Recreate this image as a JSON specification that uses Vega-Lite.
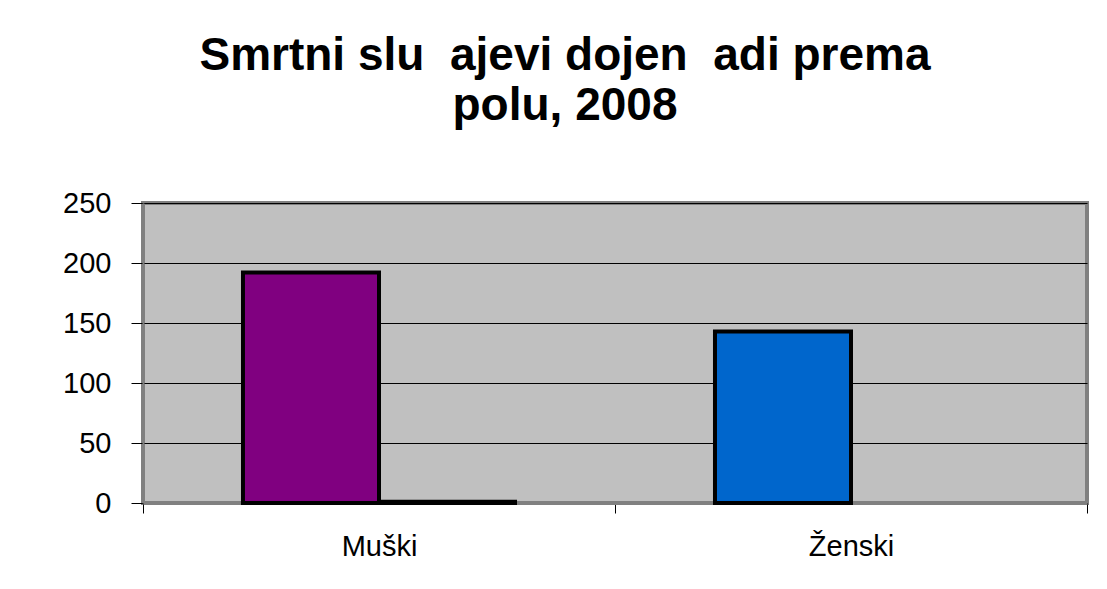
{
  "$schema": "https://vega.github.io/schema/vega-lite/v6.json",
  "width": 944,
  "height": 300,
  "autosize": {"type": "none"},
  "padding": {"left": 143, "top": 203, "right": 20, "bottom": 86},
  "background": "white",
  "title": {
    "text": ["Smrtni slu\u00a0\u00a0ajevi dojen\u00a0\u00a0adi prema", "polu, 2008"],
    "font": "Liberation Sans",
    "fontSize": 46,
    "fontWeight": "bold",
    "color": "black",
    "anchor": "middle",
    "dx": -50,
    "offset": 59,
    "lineHeight": 50
  },
  "data": {
    "values": [
      {"pol": "Muški", "serija": "1", "broj": 192},
      {"pol": "Muški", "serija": "2", "broj": 1},
      {"pol": "Ženski", "serija": "1", "broj": 143}
    ]
  },
  "mark": {"type": "bar", "stroke": "black", "strokeWidth": 4, "strokeJoin": "miter"},
  "encoding": {
    "x": {
      "field": "pol",
      "type": "nominal",
      "sort": ["Muški", "Ženski"],
      "scale": {"paddingInner": 0, "paddingOuter": 0},
      "axis": {
        "title": null,
        "labelAngle": 0,
        "labelFont": "Liberation Sans",
        "labelFontSize": 29,
        "labelColor": "black",
        "labelPadding": 19,
        "tickBand": "extent",
        "tickSize": 10,
        "tickColor": "black",
        "domainColor": "#808080",
        "domainWidth": 3,
        "grid": false
      }
    },
    "xOffset": {
      "field": "serija",
      "type": "nominal",
      "scale": {"paddingInner": 0, "paddingOuter": 0.735}
    },
    "y": {
      "field": "broj",
      "type": "quantitative",
      "scale": {"domain": [0, 250], "nice": false},
      "axis": {
        "title": null,
        "values": [0, 50, 100, 150, 200, 250],
        "labelFont": "Liberation Sans",
        "labelFontSize": 29,
        "labelColor": "black",
        "labelPadding": 20,
        "tickSize": 12,
        "tickColor": "black",
        "domainColor": "#808080",
        "domainWidth": 2,
        "gridColor": "black",
        "gridWidth": 1,
        "gridOpacity": 1
      }
    },
    "color": {
      "field": "pol",
      "type": "nominal",
      "scale": {"domain": ["Muški", "Ženski"], "range": ["#800080", "#0066CC"]},
      "legend": null
    }
  },
  "config": {
    "view": {"fill": "#C0C0C0", "stroke": "#808080", "strokeWidth": 4}
  }
}
